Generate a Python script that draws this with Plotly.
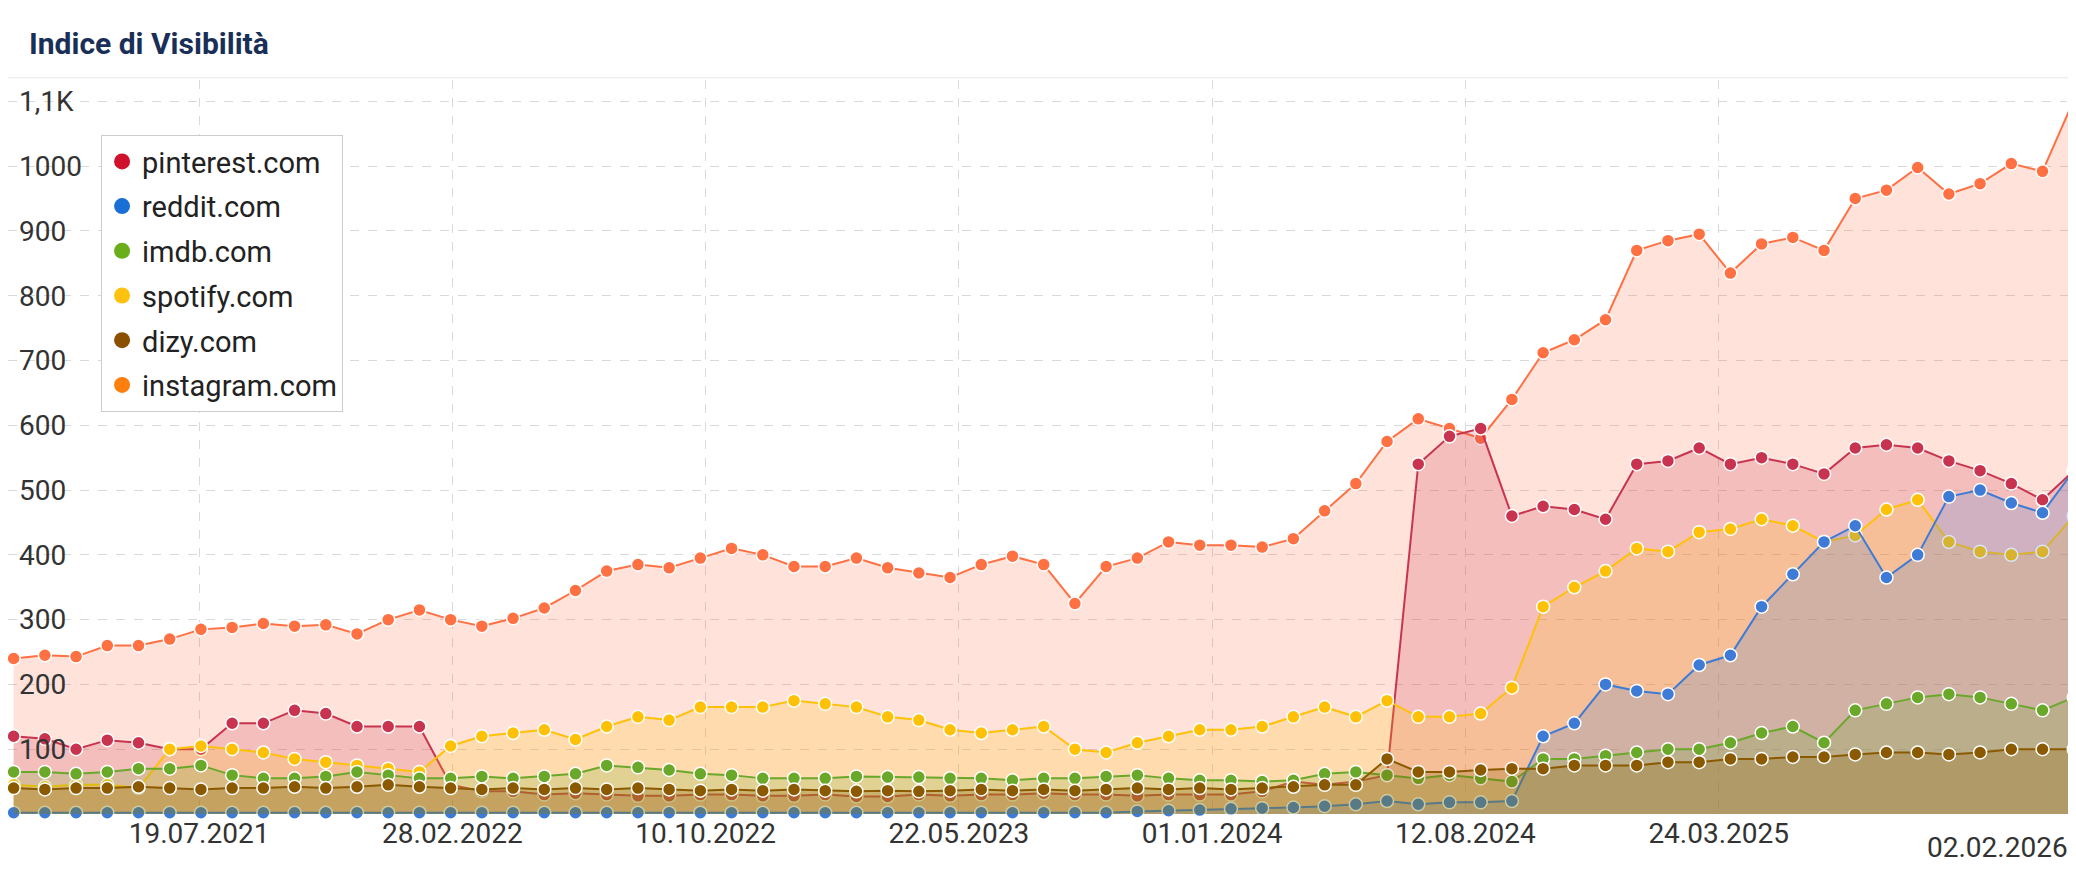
import pandas as pd
import plotly.graph_objects as go

dates = pd.date_range("2021-02-05", "2026-02-01", periods=67)

instagram = [240, 245, 243, 260, 260, 270, 285, 288, 294, 290, 292, 278, 300, 315, 300, 290, 302, 318, 345, 375,
             385, 380, 395, 410, 400, 382, 382, 395, 380, 372, 365, 385, 398, 385, 325, 382, 395, 420, 415, 415,
             412, 425, 468, 510, 575, 610, 595, 580, 640, 712, 732, 763, 870, 885, 895, 835, 880, 890, 870, 950,
             963, 998, 957, 973, 1004, 992, 1102]
pinterest = [120, 116, 100, 114, 110, 100, 100, 140, 140, 160, 155, 135, 135, 135, 45, 35, 35, 30, 32, 30,
             28, 28, 30, 30, 28, 28, 30, 27, 27, 30, 28, 30, 30, 32, 30, 30, 28, 30, 30, 30,
             35, 50, 45, 50, 60, 540, 583, 595, 460, 475, 470, 455, 540, 545, 565, 540, 550, 540, 525, 565,
             570, 565, 545, 530, 510, 485, 530]
reddit = [2] * 36 + [4, 5, 6, 8, 9, 10, 12, 15, 20, 15, 18, 18, 20, 120, 140, 200, 190, 185, 230, 245,
                     320, 370, 420, 445, 365, 400, 490, 500, 480, 465, 530]
imdb = [65, 65, 62, 65, 70, 70, 75, 60, 55, 55, 58, 65, 60, 55, 55, 58, 55, 58, 62, 75,
        72, 68, 62, 60, 55, 55, 55, 58, 57, 57, 55, 55, 52, 55, 55, 58, 60, 55, 52, 52,
        50, 52, 62, 65, 60, 55, 60, 55, 50, 85, 85, 90, 95, 100, 100, 110, 125, 135, 110, 160,
        170, 180, 185, 180, 170, 160, 180]
spotify = [45, 42, 45, 45, 40, 100, 105, 100, 95, 85, 80, 75, 70, 65, 105, 120, 125, 130, 115, 135,
           150, 145, 165, 165, 165, 175, 170, 165, 150, 145, 130, 125, 130, 135, 100, 95, 110, 120, 130, 130,
           135, 150, 165, 150, 175, 150, 150, 155, 195, 320, 350, 375, 410, 405, 435, 440, 455, 445, 420, 430,
           470, 485, 420, 405, 400, 405, 460]
dizy = [40, 38, 40, 40, 42, 40, 38, 40, 40, 42, 40, 42, 45, 42, 40, 38, 40, 38, 40, 38,
        40, 38, 36, 38, 36, 38, 36, 35, 36, 35, 36, 38, 36, 38, 36, 38, 40, 38, 40, 38,
        40, 42, 45, 45, 85, 65, 65, 68, 70, 70, 75, 75, 75, 80, 80, 85, 85, 88, 88, 92,
        95, 95, 92, 95, 100, 100, 100]

# name, data, line colour, fill colour, legend colour, legend position
series = [
    ("instagram.com", instagram, "#ff7043", "rgba(255,112,67,0.20)", "#ff7f0e", 6),
    ("pinterest.com", pinterest, "#c8344f", "rgba(200,52,79,0.20)", "#d0112b", 1),
    ("spotify.com", spotify, "#ffc107", "rgba(255,193,7,0.20)", "#ffc20e", 4),
    ("reddit.com", reddit, "#3e7bd6", "rgba(62,123,214,0.20)", "#1a6fd6", 2),
    ("imdb.com", imdb, "#6aa82a", "rgba(106,168,42,0.20)", "#6aaf1a", 3),
    ("dizy.com", dizy, "#8b5a00", "rgba(139,90,0,0.25)", "#8b4f00", 5),
]

fig = go.Figure()
for name, vals, col, fill, lcol, rank in series:
    fig.add_trace(go.Scatter(x=dates, y=vals, name=name, mode="lines+markers", fill="tozeroy",
                             fillcolor=fill, line=dict(color=col, width=2),
                             marker=dict(size=13, color=col, line=dict(color="white", width=1.5)),
                             showlegend=False, cliponaxis=False))
for name, vals, col, fill, lcol, rank in sorted(series, key=lambda s: s[5]):
    fig.add_trace(go.Scatter(x=[None], y=[None], name=name, mode="markers", legendgroup=name,
                             marker=dict(size=18, color=lcol)))

tick_dates = ["2021-07-19", "2022-02-28", "2022-10-10", "2023-05-22", "2024-01-01", "2024-08-12", "2025-03-24"]
tick_text = ["19.07.2021", "28.02.2022", "10.10.2022", "22.05.2023", "01.01.2024", "12.08.2024", "24.03.2025"]
y_ticks = [100, 200, 300, 400, 500, 600, 700, 800, 900, 1000, 1100]
y_text = ["100", "200", "300", "400", "500", "600", "700", "800", "900", "1000", "1,1K"]

fig.update_layout(
    width=2076, height=877, paper_bgcolor="white", plot_bgcolor="white",
    margin=dict(l=0, r=8, t=72, b=71),
    font=dict(family="Roboto, Arial, sans-serif", size=28, color="#333"),
    xaxis=dict(range=["2021-01-31", "2026-02-03"], tickvals=tick_dates, ticktext=tick_text,
               showgrid=True, gridcolor="#d9d9d9", griddash="dash", ticks="", zeroline=False,
               tickfont=dict(size=28, color="#333")),
    yaxis=dict(range=[0, 1133], tickvals=y_ticks, ticktext=y_text, ticklabelposition="inside",
               ticklabelstandoff=8, showgrid=True, gridcolor="#d9d9d9", griddash="dash", zeroline=False,
               tickfont=dict(size=28, color="#333")),
    legend=dict(x=0.045, y=0.925, xanchor="left", yanchor="top", bgcolor="white",
                bordercolor="#cccccc", borderwidth=1, font=dict(size=29, color="#222"),
                traceorder="grouped", tracegroupgap=4),
    showlegend=True,
)
fig.add_annotation(x=1, y=-0.02, xref="paper", yref="paper", text="02.02.2026", showarrow=False,
                   xanchor="right", yanchor="top", xshift=-6, font=dict(size=28, color="#333"))
fig.add_annotation(x=0.009, y=1.05, xref="paper", yref="paper", text="<b>Indice di Visibilità</b>",
                   showarrow=False, xanchor="left", yanchor="middle", font=dict(size=30, color="#1a2f57"))
fig.add_shape(type="line", xref="paper", yref="paper", x0=0, x1=1.01, y0=1.003, y1=1.003,
              line=dict(color="#e6e6e6", width=1))
fig.write_html("out.html")
